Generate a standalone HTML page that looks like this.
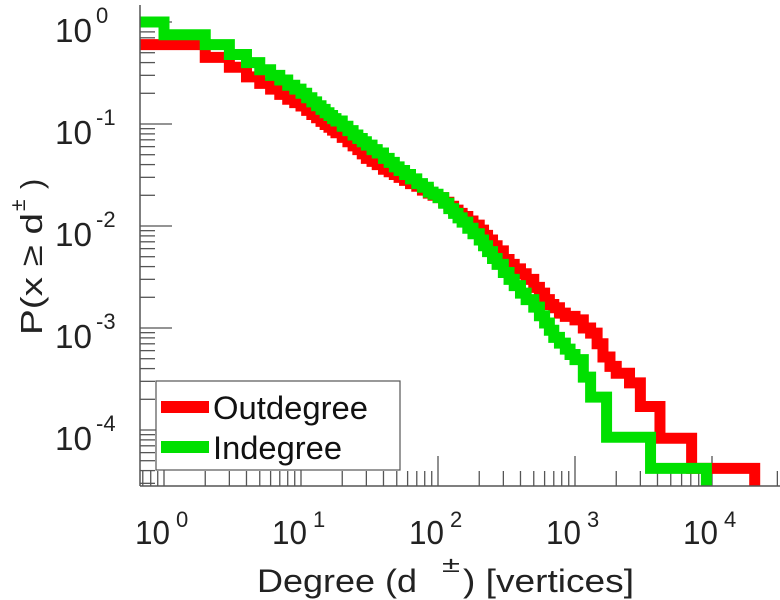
<!DOCTYPE html>
<html><head><meta charset="utf-8">
<style>
html,body{margin:0;padding:0;background:#fff;}
svg{display:block;font-family:"Liberation Sans",sans-serif;}
</style></head>
<body>
<svg id="chart" width="780" height="600" viewBox="0 0 780 600" xmlns="http://www.w3.org/2000/svg">
  <defs><clipPath id="plotclip"><rect x="140" y="0" width="640" height="486"/></clipPath></defs>
  <g id="ticks"></g>
  <g id="series" clip-path="url(#plotclip)"></g>
  <line x1="140" y1="5" x2="140" y2="486" stroke="#555" stroke-width="1.5"/>
  <line x1="140" y1="486" x2="780" y2="486" stroke="#555" stroke-width="1.5"/>
  <g id="labels" fill="#222"></g>
  <g>
    <rect x="156" y="381" width="244" height="89" fill="#fff" stroke="#555" stroke-width="1.2"/>
    <line x1="161" y1="407" x2="209" y2="407" stroke="#ff0000" stroke-width="12"/>
    <text x="213" y="419" font-size="32" fill="#111" textLength="155" lengthAdjust="spacingAndGlyphs">Outdegree</text>
    <line x1="161" y1="447" x2="209" y2="447" stroke="#00e000" stroke-width="12"/>
    <text x="213" y="459" font-size="32" fill="#111" textLength="129" lengthAdjust="spacingAndGlyphs">Indegree</text>
  </g>
  <g fill="#222">
    <text x="257" y="592" font-size="32" textLength="160" lengthAdjust="spacingAndGlyphs">Degree (d</text>
    <text x="442" y="572" font-size="22" textLength="18" lengthAdjust="spacingAndGlyphs">±</text>
    <text x="463" y="592" font-size="32" textLength="171" lengthAdjust="spacingAndGlyphs">) [vertices]</text>
  </g>
  <g transform="translate(42,335) rotate(-90)" fill="#222">
    <text x="0" y="0" font-size="31" textLength="122" lengthAdjust="spacingAndGlyphs">P(x ≥ d</text>
    <text x="124" y="-17" font-size="21">±</text>
    <text x="146" y="0" font-size="31">)</text>
  </g>
</svg>
<script>
const NS = "http://www.w3.org/2000/svg";
const xDecades = [0, 1, 2, 3, 4];
const yDecades = [0, -1, -2, -3, -4];
const outDegrees = [1,2,3,4,5,6,7,8,9,10,11,12,13,14,15,16,17,18,20,22,24,26,28,30,33,36,40,44,48,52,57,63,70,77,85,92,100,110,120,130,140,150,165,180,200,215,230,250,270,300,330,360,400,440,500,550,600,650,700,770,850,1000,1150,1300,1450,1600,1800,2000,2500,3000,4170,7100];
const outProbs = [0.6,0.45,0.36,0.29,0.25,0.22,0.195,0.175,0.162,0.15,0.136,0.124,0.115,0.106,0.099,0.093,0.087,0.082,0.074,0.067,0.061,0.056,0.051,0.046,0.043,0.040,0.036,0.034,0.032,0.030,0.028,0.026,0.0245,0.0225,0.021,0.020,0.019,0.0171,0.0156,0.0143,0.0133,0.0124,0.0112,0.0102,0.0091,0.0081,0.0073,0.0064,0.0057,0.0047,0.0042,0.0038,0.0034,0.0030,0.0025,0.0022,0.0019,0.0017,0.00158,0.0014,0.0013,0.0012,0.001,0.00089,0.0007,0.00052,0.00042,0.00036,0.00029,0.00017,0.000083,0.000042];
const outEnd = 20500;
const inDegrees = [0.5,1,2,3,4,5,6,7,8,9,10,11,12,13,14,15,16,17,18,20,22,24,26,28,30,33,36,40,44,48,52,57,63,70,77,85,92,100,110,120,130,140,150,165,180,200,215,230,250,270,300,330,360,400,440,500,550,600,650,700,770,850,920,1000,1150,1300,1700,3560];
const inProbs = [1,0.75,0.6,0.48,0.40,0.34,0.30,0.27,0.24,0.22,0.2,0.181,0.165,0.151,0.139,0.129,0.121,0.113,0.107,0.095,0.086,0.078,0.072,0.067,0.062,0.056,0.052,0.046,0.042,0.038,0.035,0.032,0.029,0.026,0.024,0.0215,0.0205,0.019,0.0167,0.0148,0.0133,0.0120,0.0109,0.0095,0.0084,0.0073,0.0064,0.0056,0.0048,0.0042,0.0035,0.0030,0.0026,0.0022,0.0019,0.0016,0.00132,0.00112,0.00095,0.00081,0.00071,0.00062,0.00055,0.00049,0.00033,0.00021,0.000085,0.000042];
const inEnd = 9100;

const X0 = 164, XD = 137, Y0 = 22, YD = 102, LEFT = 140, BOTTOM = 486;
function xs(d){ return X0 + XD*Math.log10(d); }
function ys(p){ return Y0 - YD*Math.log10(p); }

const tg = document.getElementById('ticks');
const lg = document.getElementById('labels');
function tick(x1,y1,x2,y2,name){
  const l = document.createElementNS(NS,'line');
  l.setAttribute('x1',x1); l.setAttribute('y1',y1); l.setAttribute('x2',x2); l.setAttribute('y2',y2);
  l.setAttribute('stroke','#555'); l.setAttribute('stroke-width','1.3');
  
  
  tg.appendChild(l);
}
for (let e=-1; e<=4; e++){
  for (let m=1; m<=9; m++){
    const x = xs(m*Math.pow(10,e));
    if (x < LEFT || x > 780) continue;
    tick(x, BOTTOM, x, BOTTOM - (m===1?30:15), m===1?'x-major-tick':'x-minor-tick');
  }
}
for (let e=-5; e<=0; e++){
  for (let m=1; m<=9; m++){
    const y = ys(m*Math.pow(10,e));
    if (y < 5 || y > BOTTOM) continue;
    tick(LEFT, y, LEFT + (m===1?32:15), y, m===1?'y-major-tick':'y-minor-tick');
  }
}
xDecades.forEach(e=>{
  const x = xs(Math.pow(10,e));
  const t = document.createElementNS(NS,'text');
  t.setAttribute('x', x-29); t.setAttribute('y', 544); t.setAttribute('font-size','33');
  t.setAttribute('textLength','35'); t.setAttribute('lengthAdjust','spacingAndGlyphs');
  t.textContent = '10';
  
  
  lg.appendChild(t);
  const s = document.createElementNS(NS,'text');
  s.setAttribute('x', x+12); s.setAttribute('y', 527); s.setAttribute('font-size','22');
  s.textContent = String(e);
  
  
  lg.appendChild(s);
});
yDecades.forEach(e=>{
  const y = ys(Math.pow(10,e));
  const t = document.createElementNS(NS,'text');
  t.setAttribute('x', 55); t.setAttribute('y', y+20); t.setAttribute('font-size','33');
  t.setAttribute('textLength','37'); t.setAttribute('lengthAdjust','spacingAndGlyphs');
  t.textContent = '10';
  
  
  lg.appendChild(t);
  const s = document.createElementNS(NS,'text');
  s.setAttribute('x', 96); s.setAttribute('y', y+1); s.setAttribute('font-size','22');
  s.textContent = String(e);
  
  
  lg.appendChild(s);
});
function stepPath(degs, probs, end){
  let d = 'M' + LEFT + ',' + ys(probs[0]);
  for (let i=0;i<degs.length;i++){
    const xNext = (i+1<degs.length) ? xs(degs[i+1]) : xs(end);
    d += ' L' + xNext + ',' + ys(probs[i]);
    if (i+1<degs.length) d += ' L' + xNext + ',' + ys(probs[i+1]);
    else d += ' L' + xNext + ',' + (BOTTOM+10);
  }
  return d;
}
const sg = document.getElementById('series');
function addSeries(degs, probs, end, color, name){
  const p = document.createElementNS(NS,'path');
  p.setAttribute('d', stepPath(degs, probs, end));
  p.setAttribute('fill','none'); p.setAttribute('stroke',color);
  p.setAttribute('stroke-width','11'); p.setAttribute('stroke-linejoin','miter');
  
  
  sg.appendChild(p);
}
addSeries(outDegrees, outProbs, outEnd, '#ff0000', 'outdegree-line');
addSeries(inDegrees, inProbs, inEnd, '#00e000', 'indegree-line');
</script>
</body></html>
